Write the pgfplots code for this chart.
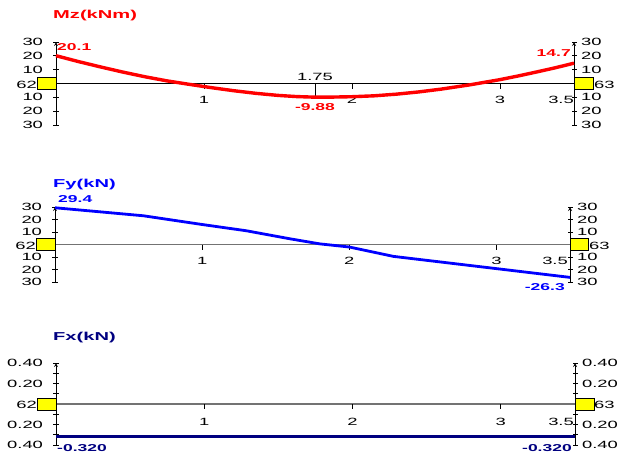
\documentclass[border=0pt]{standalone}
\usepackage{fontspec}
\setmainfont{Liberation Sans}[FakeStretch=1.75]
\usepackage{pgfplots}
\pgfplotsset{compat=1.18}
\definecolor{navy}{RGB}{0,0,128}
\definecolor{zl}{gray}{0.45}
\definecolor{yel}{RGB}{255,255,0}
\newcommand{\tfont}{\fontsize{10.5}{12}\selectfont}
\newcommand{\vfont}{\bfseries\fontsize{10}{12}\selectfont}
\newcommand{\hfont}{\bfseries\fontsize{11.5}{13}\selectfont}
\pgfplotsset{
  panel/.style={scale only axis, xmin=0, xmax=3.5, axis x line=none,
    tick align=outside, major tick length=5pt,
    tick style={black, line width=0.8pt},
    axis line style={black, line width=0.8pt, -},
    clip=false, tick label style={font=\tfont}},
  lpanel/.style={panel, axis y line=left, yticklabel style={xshift=-7pt}},
  rpanel/.style={panel, axis y line=right, yticklabel style={xshift=1pt}},
}
\begin{document}
\begin{tikzpicture}
\useasboundingbox (0,0) rectangle (619pt,-459pt);
% ---------- Mz panel ----------
\node[anchor=west, inner sep=0pt, text=red, font=\hfont] at (53pt,-16pt) {Mz(kNm)};
\begin{axis}[rpanel, at={(56pt,-125pt)}, anchor=south west, width=518pt, height=83pt,
  ymin=-30, ymax=30, ytick={-30,-20,...,30},
  yticklabels={30,20,10,{},10,20,30}]
\end{axis}
\begin{axis}[lpanel, at={(56pt,-125pt)}, anchor=south west, width=518pt, height=83pt,
  ymin=-30, ymax=30, ytick={-30,-20,...,30},
  yticklabels={30,20,10,{},10,20,30}]
\draw[black, line width=0.8pt] (axis cs:0,0) -- (axis cs:3.5,0);
\draw[black, line width=0.8pt] (axis cs:1,0) -- ++(0pt,-5pt);
\draw[black, line width=0.8pt] (axis cs:2,0) -- ++(0pt,-5pt);
\draw[black, line width=0.8pt] (axis cs:3,0) -- ++(0pt,-5pt);
\draw[black, line width=0.8pt] (axis cs:1.75,0) -- (axis cs:1.75,-9.88);
\node[font=\tfont, inner sep=0pt] at (axis cs:1,0) [yshift=-16.5pt] {1};
\node[font=\tfont, inner sep=0pt] at (axis cs:2,0) [yshift=-16.5pt] {2};
\node[font=\tfont, inner sep=0pt] at (axis cs:3,0) [yshift=-16.5pt] {3};
\node[font=\tfont, inner sep=0pt, anchor=east] at (axis cs:3.5,0) [yshift=-16.5pt] {3.5};
\node[font=\tfont, inner sep=0pt] at (axis cs:1.75,0) [yshift=7pt] {1.75};
\addplot[red, line width=3.4pt, line join=round] coordinates {
 (0,20.1) (0.15,15.9) (0.3,12.0) (0.45,8.3) (0.6,4.9) (0.75,1.9) (0.9,-0.6)
 (1.05,-3.0) (1.2,-5.2) (1.35,-7.1) (1.5,-8.6) (1.625,-9.45) (1.75,-9.88)
 (1.875,-9.8) (2.0,-9.55) (2.15,-8.9) (2.3,-7.7) (2.45,-6.1) (2.6,-4.1)
 (2.8,-0.9) (3.0,2.8) (3.125,5.5) (3.25,8.4) (3.375,11.4) (3.5,14.7)};
\node[font=\tfont, inner sep=0pt, anchor=east] at (axis cs:0,0) [xshift=-19pt, yshift=-1pt] {62};
\node[font=\tfont, inner sep=0pt, anchor=west] at (axis cs:3.5,0) [xshift=20pt, yshift=-1pt] {63};
\filldraw[fill=yel, draw=black, line width=0.8pt] (axis cs:0,0) ++(-19pt,-6pt) rectangle ++(19pt,12pt);
\filldraw[fill=yel, draw=black, line width=0.8pt] (axis cs:3.5,0) ++(0pt,-6pt) rectangle ++(19pt,12pt);
\node[font=\vfont, text=red, inner sep=0pt, anchor=west] at (axis cs:0,20.1) [xshift=1pt, yshift=9pt] {20.1};
\node[font=\vfont, text=red, inner sep=0pt, anchor=east] at (axis cs:3.5,14.7) [xshift=-3pt, yshift=10pt] {14.7};
\node[font=\vfont, text=red, inner sep=0pt] at (axis cs:1.75,-9.88) [yshift=-10pt] {-9.88};
\end{axis}
% ---------- Fy panel ----------
\node[anchor=west, inner sep=0pt, text=blue, font=\hfont] at (53pt,-185pt) {Fy(kN)};
\begin{axis}[rpanel, at={(55pt,-282pt)}, anchor=south west, width=515pt, height=75pt,
  ymin=-30, ymax=30, ytick={-30,-20,...,30},
  yticklabels={30,20,10,{},10,20,30}]
\end{axis}
\begin{axis}[lpanel, at={(55pt,-282pt)}, anchor=south west, width=515pt, height=75pt,
  ymin=-30, ymax=30, ytick={-30,-20,...,30},
  yticklabels={30,20,10,{},10,20,30}]
\draw[zl, line width=1.2pt] (axis cs:0,0) -- (axis cs:3.5,0);
\draw[black, line width=0.8pt] (axis cs:1,0) -- ++(0pt,-5pt);
\draw[black, line width=0.8pt] (axis cs:2,0) -- ++(0pt,-5pt);
\draw[black, line width=0.8pt] (axis cs:3,0) -- ++(0pt,-5pt);
\node[font=\tfont, inner sep=0pt] at (axis cs:1,0) [yshift=-16.5pt] {1};
\node[font=\tfont, inner sep=0pt] at (axis cs:2,0) [yshift=-16.5pt] {2};
\node[font=\tfont, inner sep=0pt] at (axis cs:3,0) [yshift=-16.5pt] {3};
\node[font=\tfont, inner sep=0pt, anchor=east] at (axis cs:3.5,0) [xshift=-2pt, yshift=-16.5pt] {3.5};
\addplot[blue, line width=2.8pt, line join=round] coordinates {
 (0,29.4) (0.6,23.0) (1.0,16.0) (1.3,11.0) (1.6,4.5) (1.8,0.5) (2.0,-2.0)
 (2.3,-9.5) (2.6,-13.7) (3.0,-19.3) (3.5,-26.3)};
\node[font=\tfont, inner sep=0pt, anchor=east] at (axis cs:0,0) [xshift=-19pt, yshift=-1pt] {62};
\node[font=\tfont, inner sep=0pt, anchor=west] at (axis cs:3.5,0) [xshift=19pt, yshift=-1pt] {63};
\filldraw[fill=yel, draw=black, line width=0.8pt] (axis cs:0,0) ++(-19pt,-6pt) rectangle ++(19pt,12pt);
\filldraw[fill=yel, draw=black, line width=0.8pt] (axis cs:3.5,0) ++(0pt,-6pt) rectangle ++(18pt,12pt);
\node[font=\vfont, text=blue, inner sep=0pt, anchor=west] at (axis cs:0,29.4) [xshift=3pt, yshift=8.5pt] {29.4};
\node[font=\vfont, text=blue, inner sep=0pt, anchor=east] at (axis cs:3.5,-26.3) [xshift=-5pt, yshift=-9.5pt] {-26.3};
\end{axis}
% ---------- Fx panel ----------
\node[anchor=west, inner sep=0pt, text=navy, font=\hfont] at (53pt,-338pt) {Fx(kN)};
\begin{axis}[rpanel, at={(56pt,-445pt)}, anchor=south west, width=519pt, height=82pt,
  ymin=-0.4, ymax=0.4, ytick={-0.4,-0.3,...,0.4},
  yticklabels={0.40,{},0.20,{},{},{},0.20,{},0.40}]
\end{axis}
\begin{axis}[lpanel, at={(56pt,-445pt)}, anchor=south west, width=519pt, height=82pt,
  ymin=-0.4, ymax=0.4, ytick={-0.4,-0.3,...,0.4},
  yticklabels={0.40,{},0.20,{},{},{},0.20,{},0.40}]
\draw[zl, line width=1.2pt] (axis cs:0,0) -- (axis cs:3.5,0);
\draw[black, line width=0.8pt] (axis cs:1,0) -- ++(0pt,-5pt);
\draw[black, line width=0.8pt] (axis cs:2,0) -- ++(0pt,-5pt);
\draw[black, line width=0.8pt] (axis cs:3,0) -- ++(0pt,-5pt);
\node[font=\tfont, inner sep=0pt] at (axis cs:1,0) [yshift=-18pt] {1};
\node[font=\tfont, inner sep=0pt] at (axis cs:2,0) [yshift=-18pt] {2};
\node[font=\tfont, inner sep=0pt] at (axis cs:3,0) [yshift=-18pt] {3};
\node[font=\tfont, inner sep=0pt, anchor=east] at (axis cs:3.5,0) [xshift=-1pt, yshift=-18pt] {3.5};
\addplot[navy, line width=3pt] coordinates {(0,-0.32) (3.5,-0.32)};
\node[font=\tfont, inner sep=0pt, anchor=east] at (axis cs:0,0) [xshift=-19pt, yshift=-1pt] {62};
\node[font=\tfont, inner sep=0pt, anchor=west] at (axis cs:3.5,0) [xshift=19pt, yshift=-1pt] {63};
\filldraw[fill=yel, draw=black, line width=0.8pt] (axis cs:0,0) ++(-19pt,-6pt) rectangle ++(19pt,12pt);
\filldraw[fill=yel, draw=black, line width=0.8pt] (axis cs:3.5,0) ++(0pt,-6pt) rectangle ++(19pt,12pt);
\node[font=\vfont, text=navy, inner sep=0pt, anchor=west] at (axis cs:0,-0.32) [xshift=1pt, yshift=-11pt] {-0.320};
\node[font=\vfont, text=navy, inner sep=0pt, anchor=east] at (axis cs:3.5,-0.32) [xshift=-3pt, yshift=-11pt] {-0.320};
\end{axis}
\end{tikzpicture}
\end{document}
